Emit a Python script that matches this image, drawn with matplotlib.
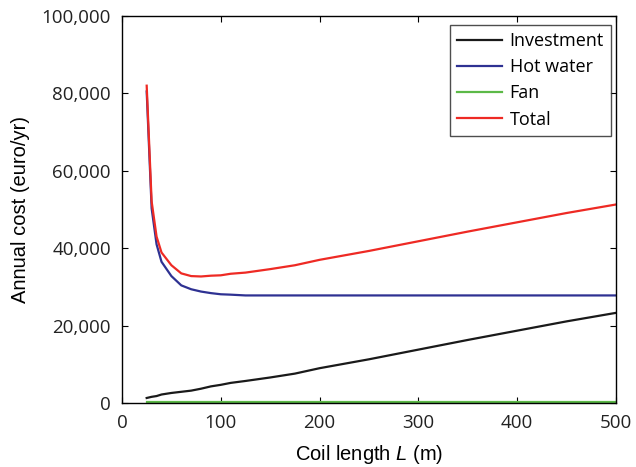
import matplotlib
matplotlib.use("Agg")
import matplotlib.pyplot as plt
from matplotlib.ticker import FuncFormatter

# Data
coil_length = [25, 30, 35, 40, 50, 60, 70, 80, 90, 100, 110, 125, 150, 175,
               200, 250, 300, 350, 400, 450, 500]
investment = [1300, 1600, 1800, 2200, 2600, 2900, 3200, 3700, 4300, 4700, 5200,
              5700, 6600, 7600, 9000, 11300, 13800, 16300, 18700, 21100, 23300]
hot_water = [80500, 50300, 41000, 36500, 32800, 30400, 29400, 28800, 28400,
             28100, 28000, 27800, 27800, 27800, 27800, 27800, 27800, 27800,
             27800, 27800, 27800]
fan = [200] * len(coil_length)
total = [82000, 52100, 43000, 38900, 35600, 33500, 32800, 32700, 32900, 33000,
         33400, 33700, 34600, 35600, 37000, 39300, 41800, 44300, 46700, 49100,
         51300]

tick_font = "Open Sans"
label_font = "Liberation Sans"
plt.rcParams["mathtext.fontset"] = "custom"
plt.rcParams["mathtext.it"] = "Liberation Sans:italic"
plt.rcParams["mathtext.rm"] = "Liberation Sans"

fig = plt.figure(figsize=(6.36, 4.67), dpi=100)
ax = fig.add_axes([0.1918, 0.137, 0.7768, 0.8287])

ax.plot(coil_length, investment, color="#1a1a1a", lw=1.6, label="Investment")
ax.plot(coil_length, hot_water, color="#2e3192", lw=1.6, label="Hot water")
ax.plot(coil_length, fan, color="#5cb947", lw=1.6, label="Fan")
ax.plot(coil_length, total, color="#ee2a24", lw=1.6, label="Total")

ax.set_xlim(0, 500)
ax.set_ylim(0, 100000)
ax.set_xticks([0, 100, 200, 300, 400, 500])
ax.set_yticks([0, 20000, 40000, 60000, 80000, 100000])
ax.yaxis.set_major_formatter(FuncFormatter(lambda v, p: f"{int(v):,}"))
ax.tick_params(direction="in", top=True, right=True, length=4, width=0.8,
               labelsize=13.5, pad=8)
for lab in ax.get_xticklabels() + ax.get_yticklabels():
    lab.set_fontfamily(tick_font)
    lab.set_color("#222222")
for s in ax.spines.values():
    s.set_linewidth(1.0)

ax.set_xlabel("Coil length $L$ (m)", fontsize=14.5, family=label_font, labelpad=8)
ax.set_ylabel("Annual cost (euro/yr)", fontsize=14.5, family=label_font, labelpad=8)

leg = ax.legend(loc="upper right", prop={"family": tick_font, "size": 13},
                fancybox=False, edgecolor="#222222", handlelength=2.5,
                bbox_to_anchor=(0.99, 0.977), borderaxespad=0,
                labelspacing=0.45, handletextpad=0.4, borderpad=0.4)
leg.get_frame().set_linewidth(1.0)

fig.savefig("out.png", dpi=100)
